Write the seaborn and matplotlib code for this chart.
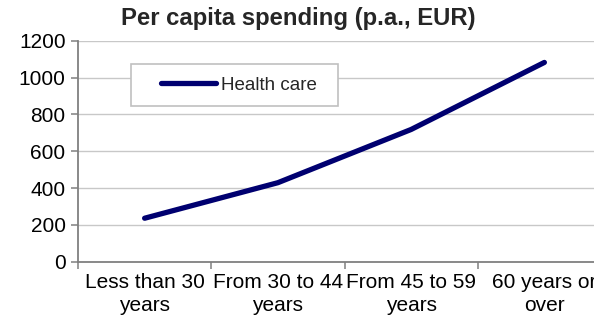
import matplotlib
matplotlib.use("Agg")
import matplotlib.pyplot as plt
import seaborn as sns
import pandas as pd
from matplotlib.patches import Rectangle

categories = ["Less than 30\nyears", "From 30 to 44\nyears", "From 45 to 59\nyears", "60 years or\nover"]
health_care = [236, 429, 718, 1082]
series_name = "Health care"
yticks = [0, 200, 400, 600, 800, 1000, 1200]

sns.set_style("white")
plt.rcParams["font.family"] = ["Liberation Sans", "DejaVu Sans"]

df = pd.DataFrame({"cat": categories, "val": health_care, "series": series_name})

fig = plt.figure(figsize=(5.94, 3.25), dpi=100)
ax = fig.add_axes([78 / 594, (325 - 261.7) / 325, 533 / 594, 221 / 325])

sns.lineplot(data=df, x="cat", y="val", hue="series", palette=["#000070"],
             sort=False, linewidth=3.8, ax=ax, legend=True)
for ln in ax.get_lines():
    ln.set_solid_capstyle("round")
    ln.set_solid_joinstyle("round")

ax.set_xlim(-0.5, 3.5)
ax.set_ylim(0, 1200)
ax.set_yticks(yticks)
ax.set_yticklabels([str(v) for v in yticks])
ax.set_xticks(range(len(categories)))
ax.set_xticklabels(categories, linespacing=1.3)
ax.set_xticks([-0.5, 0.5, 1.5, 2.5, 3.5], minor=True)
ax.tick_params(axis="x", which="major", length=0, pad=8, labelsize=15, colors="black")
ax.tick_params(axis="x", which="minor", length=5, width=1.1, color="#808080", direction="out", bottom=True)
ax.tick_params(axis="y", length=5, width=1.1, color="#808080", direction="out", left=True, labelsize=15, pad=4,
               labelcolor="black")
ax.set_xlabel("")
ax.set_ylabel("")

ax.grid(axis="y", color="#c8c8c8", linewidth=1.0)
ax.set_axisbelow(True)
for s in ["top", "right"]:
    ax.spines[s].set_visible(False)
for s in ["left", "bottom"]:
    ax.spines[s].set_color("#808080")
    ax.spines[s].set_linewidth(1.3)

fig.text(298 / 594, 1 - 18 / 325, "Per capita spending (p.a., EUR)", fontsize=17.2, fontweight="bold",
         ha="center", va="center")

# legend
handles, labels = ax.get_legend_handles_labels()
leg = ax.legend(handles, labels, loc="center left", bbox_to_anchor=((161 - 78) / 533, (261.7 - 85) / 221),
                frameon=False, fontsize=13.5, handlelength=2.95, handletextpad=0.25, borderaxespad=0, borderpad=0)
for h in leg.legend_handles:
    h.set_linewidth(3.8)
    h.set_solid_capstyle("round")
rect = Rectangle(((131 - 78) / 533, (261.7 - 106) / 221), (338 - 131) / 533, 42 / 221,
                 transform=ax.transAxes, facecolor="white", edgecolor="#c0c0c0", linewidth=1.2, zorder=4)
ax.add_patch(rect)
leg.set_zorder(5)

fig.savefig("out.png", dpi=100)
